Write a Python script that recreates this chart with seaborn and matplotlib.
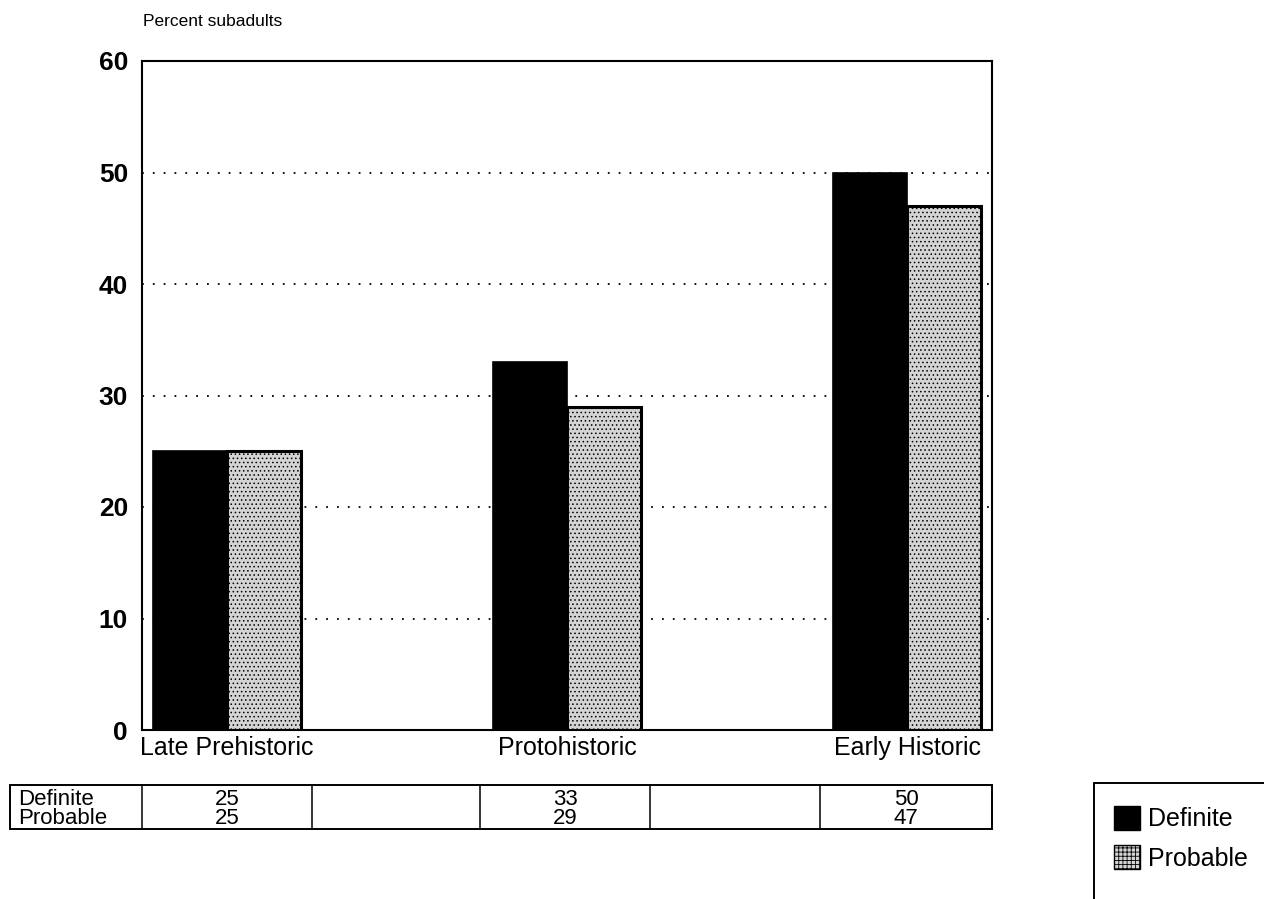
import matplotlib
matplotlib.use("Agg")
import matplotlib.pyplot as plt
from matplotlib.patches import Rectangle, Patch
import seaborn as sns
import pandas as pd

# Data
periods = ["Late Prehistoric", "Protohistoric", "Early Historic"]
definite = [25, 33, 50]
probable = [25, 29, 47]
series = ["Definite", "Probable"]
y_ticks = [0, 10, 20, 30, 40, 50, 60]

sns.set_theme(style="white")
plt.rcParams["font.family"] = ["Liberation Sans", "DejaVu Sans"]
plt.rcParams["text.color"] = "black"
plt.rcParams["xtick.color"] = "black"
plt.rcParams["ytick.color"] = "black"
plt.rcParams["hatch.color"] = "#8a8a8a"
plt.rcParams["hatch.linewidth"] = 0.6

W, H = 1264, 899
fig = plt.figure(figsize=(W / 100, H / 100), dpi=100)

def fx(px):
    return px / W

def fy(py):
    return 1 - py / H

# Slots: each period separated by an empty column, matching the data table below
spacers = ["_gap1", "_gap2"]
order = [periods[0], spacers[0], periods[1], spacers[1], periods[2]]

df = pd.DataFrame({
    "period": periods * 2,
    "series": [series[0]] * 3 + [series[1]] * 3,
    "value": definite + probable,
})

ax = fig.add_axes([fx(142), fy(730), fx(992) - fx(142), fy(61) - fy(730)])
sns.barplot(data=df, x="period", y="value", hue="series", order=order,
            hue_order=series, palette=["#000000", "#d4d4d4"], width=0.87,
            saturation=1, legend=False, ax=ax, zorder=3)

for bar in ax.containers[0]:
    bar.set_edgecolor("black")
    bar.set_linewidth(1.2)
for bar in ax.containers[1]:
    bar.set_edgecolor("black")
    bar.set_linewidth(2.2)
    bar.set_hatch("....")

ax.set_xlim(-0.5, 4.5)
ax.set_ylim(0, 60)
ax.set_yticks(y_ticks)
ax.set_yticklabels([str(t) for t in y_ticks], fontsize=19, fontweight="bold")
ax.set_xticks([0, 2, 4])
ax.set_xticklabels(periods, fontsize=18)
ax.tick_params(axis="x", length=0, pad=4)
ax.tick_params(axis="y", length=0, pad=10)
ax.set_xlabel("")
ax.set_ylabel("")
ax.yaxis.grid(True, linestyle=(0, (1, 5)), color="black", linewidth=1.3, zorder=0)
ax.xaxis.grid(False)
for sp in ax.spines.values():
    sp.set_color("black")
    sp.set_linewidth(1.5)

fig.text(fx(143), fy(29), "Percent subadults", fontsize=12.5, ha="left", va="bottom")

# Data table below the chart
tab = fig.add_axes([fx(10), fy(829), fx(992) - fx(10), fy(785) - fy(829)])
tab.set_xlim(10, 992)
tab.set_ylim(829, 785)
tab.axis("off")
tab.add_patch(Rectangle((10, 785), 982, 44, fill=False, edgecolor="black",
                        linewidth=1.4, clip_on=False))
for xb in [142, 312, 480, 650, 820]:
    tab.plot([xb, xb], [785, 829], color="black", linewidth=1.1)
row_y = [799.5, 818.5]
tab.text(18, row_y[0], series[0], fontsize=16, ha="left", va="center")
tab.text(18, row_y[1], series[1], fontsize=16, ha="left", va="center")
col_centers = [227, 565, 906]
for cx, d, p in zip(col_centers, definite, probable):
    tab.text(cx, row_y[0], str(d), fontsize=16, ha="center", va="center")
    tab.text(cx, row_y[1], str(p), fontsize=16, ha="center", va="center")

# Legend box at right
fig.patches.append(Rectangle((fx(1094), fy(899) - 0.01), fx(1264) - fx(1094) + 0.01,
                             fy(783) - fy(899) + 0.01, transform=fig.transFigure,
                             fill=False, edgecolor="black", linewidth=1.4))
handles = [Patch(facecolor="black", edgecolor="black"),
           Patch(facecolor="#d4d4d4", edgecolor="black", hatch="++++")]
fig.legend(handles, series, loc="upper left", bbox_to_anchor=(fx(1114), fy(806)),
           frameon=False, fontsize=18, handlelength=1.05, handleheight=1.1,
           handletextpad=0.3, labelspacing=0.55, borderaxespad=0, borderpad=0)

fig.savefig("out.png", dpi=100, facecolor="white")
